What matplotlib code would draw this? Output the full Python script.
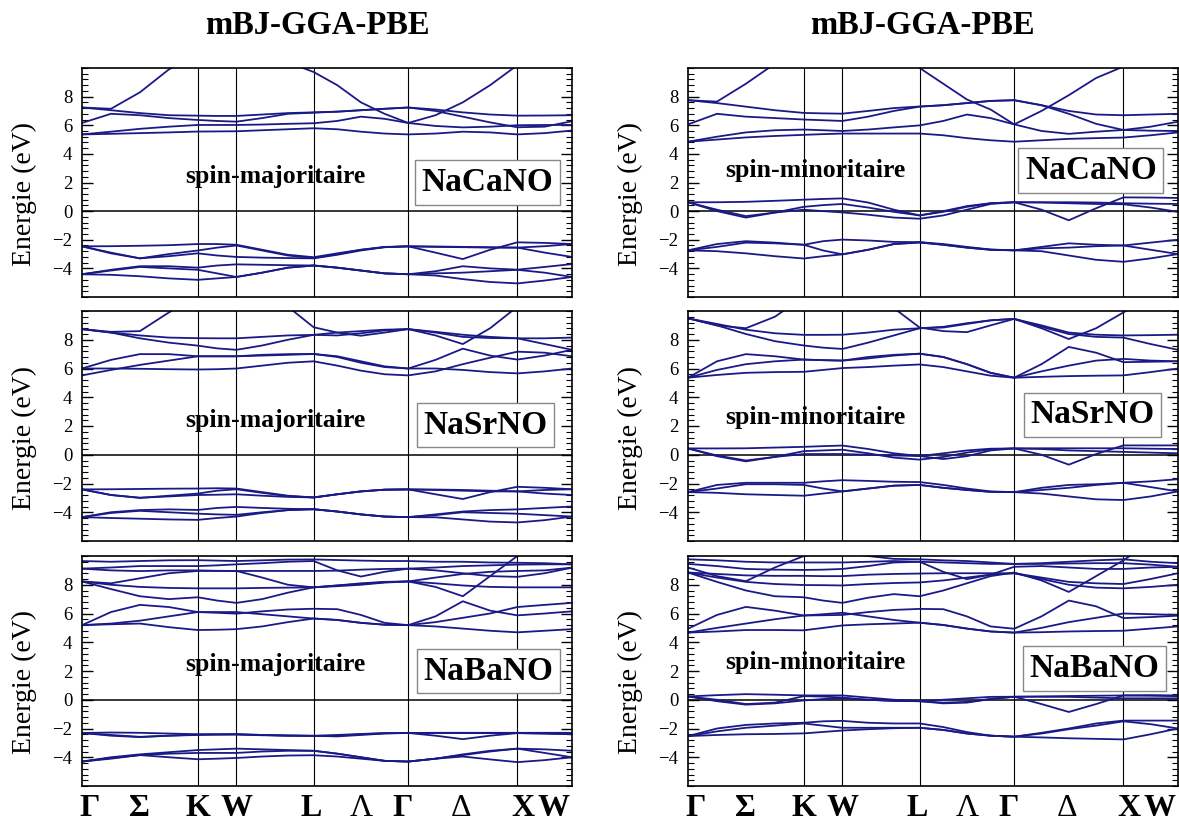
import matplotlib
matplotlib.use("Agg")
import matplotlib.pyplot as plt
from matplotlib.ticker import MultipleLocator

plt.rcParams['font.family'] = ['Liberation Serif', 'DejaVu Serif']

# k-path Gamma-K-W-L-Gamma-X-W (fcc), sample positions along the path
kpts = [0.0, 0.2652, 0.5303, 0.7955, 1.0607, 1.2374, 1.4142, 1.6499, 1.8856,
        2.1213, 2.3378, 2.5543, 2.7708, 2.9873, 3.2373, 3.4873, 3.7373,
        3.9873, 4.2373, 4.4873]
knodes = [1.0607, 1.4142, 2.1213, 2.9873, 3.9873]
klabels = ['Γ', 'Σ', 'K', 'W', 'L', 'Λ', 'Γ', 'Δ', 'X', 'W']
klabel_pos = [0.073, 0.530, 1.0607, 1.4142, 2.10, 2.56, 2.94, 3.47, 4.04, 4.32]

titles = ['mBJ-GGA-PBE', 'mBJ-GGA-PBE']
compounds = ['NaCaNO', 'NaSrNO', 'NaBaNO']
spins = ['spin-majoritaire', 'spin-minoritaire']

# NaCaNO spin up
ca_up = [
    [5.36, 5.4, 5.45, 5.5, 5.56, 5.57, 5.58, 5.65, 5.72, 5.79, 5.72, 5.55, 5.42, 5.36, 5.42, 5.55, 5.5, 5.36, 5.45, 5.63],
    [5.36, 5.55, 5.75, 5.9, 6.02, 6.02, 6.02, 6.05, 6.1, 6.14, 6.3, 6.6, 6.45, 6.16, 5.95, 5.85, 5.9, 6.0, 6.02, 6.02],
    [6.16, 6.8, 6.7, 6.5, 6.37, 6.3, 6.25, 6.5, 6.8, 6.88, 6.95, 7.05, 7.15, 7.24, 7.0, 6.6, 6.2, 5.86, 5.9, 6.28],
    [7.24, 7.05, 6.85, 6.7, 6.67, 6.65, 6.65, 6.75, 6.85, 6.9, 6.95, 7.05, 7.15, 7.24, 7.1, 6.9, 6.75, 6.67, 6.68, 6.7],
    [7.24, 7.15, 8.3, 9.9, 11, 11, 11, 11, 10.4, 9.72, 8.8, 7.6, 6.8, 6.16, 6.7, 7.6, 8.8, 10.2, 11, 11],
    [-2.46, -2.45, -2.42, -2.38, -2.3, -2.3, -2.35, -2.7, -3.05, -3.22, -2.95, -2.7, -2.52, -2.46, -2.47, -2.5, -2.52, -2.55, -2.45, -2.3],
    [-2.46, -2.9, -3.3, -3.0, -2.75, -2.55, -2.4, -2.75, -3.1, -3.28, -3.0, -2.7, -2.5, -2.46, -2.9, -3.35, -2.7, -2.18, -2.22, -2.3],
    [-2.46, -2.95, -3.3, -3.15, -2.95, -3.1, -3.2, -3.25, -3.28, -3.3, -3.05, -2.75, -2.52, -2.46, -2.5, -2.52, -2.55, -2.55, -2.9, -3.2],
    [-4.41, -4.1, -3.85, -3.85, -3.95, -3.8, -3.72, -3.75, -3.78, -3.8, -3.95, -4.15, -4.35, -4.41, -4.2, -3.85, -4.0, -4.09, -3.9, -3.7],
    [-4.41, -4.15, -3.9, -4.0, -4.1, -4.35, -4.6, -4.3, -3.95, -3.8, -3.95, -4.15, -4.35, -4.41, -4.35, -4.3, -4.2, -4.1, -4.3, -4.6],
    [-4.41, -4.45, -4.55, -4.7, -4.8, -4.7, -4.6, -4.3, -3.95, -3.8, -3.95, -4.15, -4.35, -4.41, -4.5, -4.75, -4.95, -5.05, -4.85, -4.6],
]

# NaCaNO spin down
ca_dn = [
    [4.85, 5.0, 5.15, 5.25, 5.33, 5.38, 5.42, 5.42, 5.42, 5.42, 5.3, 5.1, 4.95, 4.85, 4.95, 5.05, 5.1, 5.14, 5.3, 5.5],
    [4.85, 5.2, 5.5, 5.65, 5.7, 5.65, 5.6, 5.7, 5.85, 5.99, 6.3, 6.75, 6.5, 6.06, 5.6, 5.4, 5.55, 5.67, 5.62, 5.6],
    [6.06, 6.8, 6.6, 6.5, 6.4, 6.35, 6.3, 6.6, 7.0, 7.3, 7.4, 7.55, 7.7, 7.75, 7.4, 6.8, 6.1, 5.67, 5.9, 6.25],
    [7.75, 7.55, 7.3, 7.05, 6.86, 6.83, 6.81, 7.0, 7.2, 7.31, 7.4, 7.55, 7.7, 7.75, 7.4, 7.0, 6.75, 6.7, 6.75, 6.8],
    [7.75, 7.65, 8.9, 10.3, 11, 11, 11, 11, 11, 10.0, 8.9, 7.8, 7.1, 6.06, 7.0, 8.1, 9.3, 10.1, 11, 11],
    [0.62, 0.62, 0.65, 0.72, 0.8, 0.85, 0.89, 0.6, 0.1, -0.3, 0.0, 0.35, 0.55, 0.62, 0.62, 0.62, 0.6, 0.55, 0.52, 0.5],
    [0.62, 0.0, -0.45, -0.1, 0.3, 0.42, 0.5, 0.25, -0.05, -0.3, -0.05, 0.3, 0.55, 0.62, 0.1, -0.64, 0.2, 0.96, 0.95, 0.92],
    [0.62, 0.1, -0.35, -0.1, 0.1, 0.0, -0.09, -0.25, -0.45, -0.53, -0.3, 0.1, 0.5, 0.62, 0.6, 0.55, 0.5, 0.48, 0.25, -0.05],
    [-2.74, -2.3, -2.1, -2.2, -2.35, -2.1, -1.99, -2.05, -2.15, -2.17, -2.3, -2.5, -2.68, -2.74, -2.5, -2.25, -2.35, -2.4, -2.2, -2.0],
    [-2.74, -2.5, -2.2, -2.25, -2.35, -2.75, -3.02, -2.7, -2.3, -2.17, -2.35, -2.55, -2.7, -2.74, -2.6, -2.55, -2.45, -2.4, -2.7, -3.0],
    [-2.74, -2.8, -2.95, -3.15, -3.31, -3.15, -3.02, -2.7, -2.3, -2.2, -2.35, -2.55, -2.7, -2.74, -2.8, -3.1, -3.4, -3.54, -3.3, -3.0],
]

# NaSrNO spin up
sr_up = [
    [5.52, 5.9, 6.25, 6.55, 6.85, 6.85, 6.85, 6.9, 6.95, 7.01, 6.8, 6.4, 6.1, 6.0, 6.0, 5.9, 5.75, 5.66, 5.8, 6.0],
    [6.0, 6.0, 5.98, 5.95, 5.93, 5.95, 6.0, 6.2, 6.4, 6.5, 6.2, 5.85, 5.6, 5.52, 5.8, 6.3, 6.75, 7.17, 7.1, 6.85],
    [6.0, 6.6, 7.0, 7.0, 6.85, 6.85, 6.85, 6.95, 7.0, 7.01, 6.85, 6.5, 6.15, 6.0, 6.6, 7.38, 6.9, 6.62, 6.9, 7.3],
    [8.74, 8.5, 8.1, 7.8, 7.59, 7.4, 7.3, 7.6, 8.0, 8.34, 8.3, 8.45, 8.65, 8.74, 8.5, 8.2, 8.12, 8.1, 7.7, 7.3],
    [8.74, 8.5, 8.3, 8.15, 8.11, 8.1, 8.1, 8.2, 8.3, 8.34, 8.5, 8.6, 8.7, 8.74, 8.55, 8.35, 8.2, 8.1, 8.1, 8.15],
    [8.74, 8.55, 8.6, 9.9, 11, 11, 11, 11, 10.3, 8.87, 8.5, 8.28, 8.5, 8.74, 8.3, 7.7, 8.8, 10.3, 11, 11],
    [-2.41, -2.4, -2.38, -2.36, -2.35, -2.33, -2.35, -2.6, -2.85, -2.97, -2.75, -2.55, -2.43, -2.41, -2.42, -2.45, -2.5, -2.55, -2.45, -2.4],
    [-2.41, -2.8, -3.0, -2.85, -2.7, -2.5, -2.4, -2.65, -2.88, -2.97, -2.75, -2.55, -2.43, -2.41, -2.75, -3.08, -2.6, -2.23, -2.3, -2.4],
    [-2.41, -2.8, -2.99, -2.9, -2.8, -2.78, -2.75, -2.85, -2.93, -2.97, -2.75, -2.55, -2.43, -2.41, -2.45, -2.5, -2.55, -2.55, -2.7, -2.8],
    [-4.34, -4.0, -3.85, -3.8, -3.84, -3.7, -3.63, -3.7, -3.76, -3.79, -3.95, -4.15, -4.3, -4.34, -4.15, -3.95, -3.85, -3.8, -3.7, -3.6],
    [-4.34, -4.05, -3.9, -4.0, -4.1, -4.15, -4.18, -4.0, -3.85, -3.79, -3.95, -4.15, -4.3, -4.34, -4.2, -4.0, -4.05, -4.1, -4.2, -4.3],
    [-4.34, -4.4, -4.45, -4.5, -4.53, -4.4, -4.3, -4.05, -3.85, -3.79, -3.95, -4.15, -4.3, -4.34, -4.35, -4.5, -4.65, -4.71, -4.55, -4.3],
]

# NaSrNO spin down
sr_dn = [
    [5.36, 5.55, 5.7, 5.75, 5.77, 5.9, 6.03, 6.1, 6.2, 6.28, 6.1, 5.8, 5.5, 5.36, 5.42, 5.47, 5.5, 5.52, 5.75, 6.0],
    [5.36, 5.9, 6.3, 6.5, 6.62, 6.58, 6.55, 6.7, 6.9, 7.03, 6.8, 6.3, 5.7, 5.36, 5.8, 6.2, 6.55, 6.67, 6.55, 6.5],
    [5.36, 6.5, 7.0, 6.85, 6.62, 6.58, 6.55, 6.8, 6.95, 7.03, 6.8, 6.3, 5.7, 5.36, 6.3, 7.5, 7.1, 6.44, 6.47, 6.5],
    [9.49, 9.0, 8.4, 7.9, 7.6, 7.45, 7.36, 7.8, 8.3, 8.8, 8.85, 9.1, 9.35, 9.45, 8.9, 8.4, 8.2, 8.15, 7.7, 7.3],
    [9.49, 9.1, 8.7, 8.45, 8.34, 8.34, 8.35, 8.5, 8.7, 8.8, 8.9, 9.15, 9.35, 9.45, 9.0, 8.5, 8.35, 8.3, 8.32, 8.35],
    [9.49, 9.0, 8.8, 9.6, 11, 11, 11, 11, 10.2, 8.85, 8.6, 8.53, 9.0, 9.45, 8.8, 8.05, 8.8, 9.9, 11, 11],
    [0.44, 0.44, 0.45, 0.5, 0.55, 0.6, 0.64, 0.4, 0.1, -0.09, 0.1, 0.3, 0.42, 0.44, 0.45, 0.45, 0.45, 0.45, 0.42, 0.4],
    [0.44, -0.1, -0.46, -0.15, 0.25, 0.3, 0.35, 0.1, -0.2, -0.34, -0.15, 0.15, 0.38, 0.44, 0.0, -0.69, 0.05, 0.65, 0.65, 0.65],
    [0.44, -0.05, -0.4, -0.15, 0.05, 0.05, 0.05, 0.0, -0.05, -0.09, -0.3, -0.1, 0.3, 0.44, 0.4, 0.3, 0.25, 0.2, 0.15, 0.1],
    [-2.6, -2.1, -1.95, -1.95, -1.95, -1.85, -1.77, -1.82, -1.88, -1.9, -2.1, -2.35, -2.55, -2.6, -2.3, -2.1, -2.05, -1.95, -1.85, -1.7],
    [-2.6, -2.35, -2.05, -2.05, -2.1, -2.35, -2.55, -2.35, -2.15, -2.1, -2.3, -2.45, -2.58, -2.6, -2.45, -2.3, -2.1, -1.95, -2.25, -2.55],
    [-2.6, -2.65, -2.75, -2.8, -2.85, -2.7, -2.55, -2.35, -2.15, -2.1, -2.3, -2.45, -2.58, -2.6, -2.7, -2.9, -3.1, -3.15, -2.9, -2.55],
]

# NaBaNO spin up
ba_up = [
    [5.19, 5.25, 5.3, 5.05, 4.85, 4.87, 4.91, 5.1, 5.4, 5.65, 5.55, 5.35, 5.22, 5.19, 5.1, 4.95, 4.8, 4.69, 4.8, 4.91],
    [5.19, 5.3, 5.5, 5.8, 6.1, 6.1, 6.1, 5.95, 5.8, 5.65, 5.55, 5.35, 5.22, 5.19, 5.4, 5.7, 6.0, 6.45, 6.6, 6.74],
    [5.19, 6.1, 6.6, 6.45, 6.1, 6.05, 5.99, 6.15, 6.28, 6.33, 6.3, 5.9, 5.35, 5.19, 5.8, 6.85, 6.2, 5.87, 6.0, 6.15],
    [8.23, 7.7, 7.2, 7.0, 7.13, 6.9, 6.74, 7.0, 7.45, 7.82, 7.9, 8.0, 8.15, 8.23, 7.85, 7.2, 8.6, 10.0, 11, 11],
    [8.23, 8.0, 7.85, 7.78, 7.75, 7.75, 7.75, 7.78, 7.8, 7.82, 7.95, 8.1, 8.2, 8.23, 8.1, 7.95, 7.85, 7.82, 7.82, 7.82],
    [8.23, 8.1, 8.45, 8.8, 8.96, 8.96, 8.96, 8.5, 8.0, 7.82, 7.95, 8.05, 8.18, 8.23, 8.5, 8.75, 8.9, 8.96, 9.0, 9.19],
    [9.12, 9.0, 8.95, 9.0, 9.0, 8.97, 8.96, 8.96, 8.96, 8.96, 8.98, 9.05, 9.1, 9.12, 9.0, 8.8, 8.6, 8.55, 8.8, 9.19],
    [9.12, 9.2, 9.3, 9.3, 9.3, 9.35, 9.42, 9.5, 9.6, 9.65, 9.0, 8.57, 8.9, 9.12, 9.2, 9.3, 9.35, 9.4, 9.42, 9.42],
    [9.65, 9.6, 9.65, 9.7, 9.71, 9.68, 9.65, 9.7, 9.75, 9.76, 9.72, 9.68, 9.65, 9.65, 9.6, 9.6, 9.55, 9.53, 9.5, 9.42],
    [-2.31, -2.28, -2.3, -2.35, -2.4, -2.4, -2.4, -2.45, -2.48, -2.51, -2.45, -2.38, -2.32, -2.31, -2.3, -2.3, -2.3, -2.3, -2.3, -2.3],
    [-2.31, -2.45, -2.58, -2.5, -2.42, -2.42, -2.42, -2.47, -2.5, -2.51, -2.55, -2.45, -2.35, -2.31, -2.5, -2.74, -2.5, -2.32, -2.35, -2.4],
    [-2.31, -2.5, -2.6, -2.5, -2.45, -2.42, -2.4, -2.45, -2.5, -2.51, -2.5, -2.4, -2.33, -2.31, -2.31, -2.32, -2.32, -2.32, -2.35, -2.4],
    [-4.3, -4.0, -3.8, -3.65, -3.5, -3.45, -3.4, -3.45, -3.5, -3.55, -3.75, -4.0, -4.25, -4.3, -4.1, -3.8, -3.55, -3.4, -3.45, -3.55],
    [-4.3, -4.05, -3.85, -3.75, -3.7, -3.7, -3.7, -3.6, -3.55, -3.55, -3.75, -4.0, -4.25, -4.3, -4.1, -3.85, -3.6, -3.4, -3.7, -4.0],
    [-4.3, -4.1, -3.85, -4.0, -4.14, -4.1, -4.05, -3.95, -3.88, -3.86, -3.95, -4.1, -4.25, -4.3, -4.1, -3.95, -4.15, -4.34, -4.2, -4.0],
]

# NaBaNO spin down
ba_dn = [
    [4.67, 4.75, 4.85, 4.85, 4.83, 5.0, 5.17, 5.25, 5.3, 5.36, 5.2, 4.95, 4.75, 4.67, 4.7, 4.75, 4.78, 4.8, 4.95, 5.1],
    [4.67, 5.0, 5.3, 5.6, 5.86, 5.95, 6.05, 5.8, 5.55, 5.36, 5.2, 4.95, 4.75, 4.67, 5.0, 5.4, 5.7, 6.0, 5.95, 5.9],
    [4.94, 5.9, 6.46, 6.2, 5.86, 5.88, 5.9, 6.1, 6.25, 6.32, 6.3, 5.8, 5.1, 4.94, 5.8, 6.9, 6.5, 5.68, 5.75, 5.85],
    [8.85, 8.2, 7.6, 7.2, 7.13, 6.9, 6.74, 7.1, 7.35, 7.2, 7.6, 8.1, 8.6, 8.85, 8.3, 7.5, 8.6, 9.7, 11, 11],
    [8.85, 8.5, 8.2, 8.05, 7.98, 7.97, 7.95, 8.05, 8.12, 8.16, 8.3, 8.5, 8.7, 8.8, 8.4, 8.0, 7.8, 7.75, 7.85, 8.0],
    [9.45, 9.3, 9.1, 9.05, 9.03, 9.05, 9.1, 9.3, 9.55, 9.6, 8.9, 8.39, 8.7, 9.25, 9.3, 9.2, 9.1, 9.1, 9.2, 9.25],
    [9.2, 8.6, 8.25, 9.2, 10.0, 10.2, 10.2, 10.0, 9.8, 9.77, 9.7, 9.65, 9.55, 9.45, 9.5, 9.6, 9.7, 9.77, 9.6, 9.5],
    [8.85, 8.75, 8.65, 8.62, 8.62, 8.6, 8.6, 8.7, 8.75, 8.78, 8.8, 8.8, 8.8, 8.8, 8.5, 8.2, 8.1, 8.05, 8.4, 8.8],
    [9.77, 9.7, 9.6, 9.55, 9.55, 9.55, 9.55, 9.6, 9.65, 9.6, 9.55, 9.5, 9.45, 9.45, 9.45, 9.48, 9.5, 9.5, 9.4, 9.25],
    [0.23, 0.32, 0.39, 0.35, 0.3, 0.3, 0.3, 0.15, 0.0, -0.1, 0.0, 0.1, 0.2, 0.21, 0.23, 0.26, 0.28, 0.3, 0.28, 0.25],
    [0.23, 0.0, -0.3, -0.2, 0.25, 0.22, 0.15, 0.0, -0.08, -0.1, -0.2, -0.15, 0.05, 0.21, -0.3, -0.85, -0.3, 0.3, 0.32, 0.3],
    [0.23, -0.1, -0.34, -0.25, -0.05, 0.05, 0.1, 0.0, -0.08, -0.1, -0.25, -0.2, 0.05, 0.21, 0.21, 0.2, 0.15, 0.1, 0.1, 0.1],
    [-2.53, -2.0, -1.75, -1.65, -1.6, -1.5, -1.47, -1.6, -1.65, -1.65, -1.9, -2.25, -2.5, -2.57, -2.3, -2.0, -1.65, -1.45, -1.45, -1.45],
    [-2.53, -2.2, -1.95, -1.8, -1.65, -1.8, -1.95, -1.95, -1.95, -1.95, -2.1, -2.35, -2.5, -2.57, -2.35, -2.05, -1.8, -1.5, -1.7, -2.0],
    [-2.53, -2.45, -2.4, -2.38, -2.34, -2.24, -2.14, -2.05, -1.98, -1.95, -2.1, -2.35, -2.5, -2.57, -2.62, -2.68, -2.72, -2.76, -2.4, -2.0],
]

panels = [[ca_up, ca_dn], [sr_up, sr_dn], [ba_up, ba_dn]]

# label placement (axes fractions)
spin_xy = [[(0.395, 0.525), (0.26, 0.554)],
           [(0.395, 0.523), (0.26, 0.538)],
           [(0.395, 0.530), (0.26, 0.537)]]
box_xy = [[(0.828, 0.50), (0.822, 0.553)],
          [(0.823, 0.504), (0.826, 0.548)],
          [(0.829, 0.500), (0.830, 0.511)]]

band_color = '#1a1a86'
W, H = 1179.0, 825.0
col_x = [82, 688]
row_y = [(68, 297), (311, 541), (556, 786)]

fig = plt.figure(figsize=(11.79, 8.25), dpi=100)

for r in range(3):
    for c in range(2):
        y1, y2 = row_y[r]
        ax = fig.add_axes([col_x[c] / W, 1 - y2 / H, 490 / W, (y2 - y1) / H])
        for band in panels[r][c]:
            ax.plot(kpts, band, color=band_color, lw=1.3, solid_joinstyle='round')
        for k in knodes:
            ax.axvline(k, color='black', lw=0.8, zorder=1)
        ax.axhline(0, color='black', lw=1.1, zorder=1)
        ax.set_xlim(0, 4.4873)
        ax.set_ylim(-6, 10)
        ax.set_yticks([-4, -2, 0, 2, 4, 6, 8])
        ax.yaxis.set_minor_locator(MultipleLocator(0.4))
        ax.tick_params(axis='y', which='both', direction='in', left=True, right=True,
                       labelsize=13.5, pad=7)
        ax.tick_params(axis='y', which='major', length=8, width=1)
        ax.tick_params(axis='y', which='minor', length=4.3, width=0.8)
        for s in ax.spines.values():
            s.set_linewidth(1.2)
        if r == 2:
            ax.set_xticks(klabel_pos)
            ax.set_xticklabels(klabels)
            for t in ax.get_xticklabels():
                t.set_fontsize(23)
                t.set_fontweight('normal' if t.get_text() in ('Λ', 'Δ') else 'bold')
            ax.tick_params(axis='x', length=0, pad=6)
        else:
            ax.set_xticks([])
        ax.set_ylabel('Energie (eV)', fontsize=20)
        ax.yaxis.set_label_coords(-0.092, 0.45)
        sx, sy = spin_xy[r][c]
        ax.text(sx, sy, spins[c], transform=ax.transAxes, ha='center', va='center',
                fontsize=18.5, fontweight='bold')
        bx, by = box_xy[r][c]
        ax.text(bx, by, compounds[r], transform=ax.transAxes, ha='center', va='center',
                fontsize=24, fontweight='bold',
                bbox=dict(boxstyle='square,pad=0.2', facecolor='white',
                          edgecolor='#888888', linewidth=1.0))

fig.text(317 / W, 1 - 25 / H, titles[0], ha='center', va='center', fontsize=23.5, fontweight='bold')
fig.text(922 / W, 1 - 25 / H, titles[1], ha='center', va='center', fontsize=23.5, fontweight='bold')

fig.savefig('out.png', dpi=100)
